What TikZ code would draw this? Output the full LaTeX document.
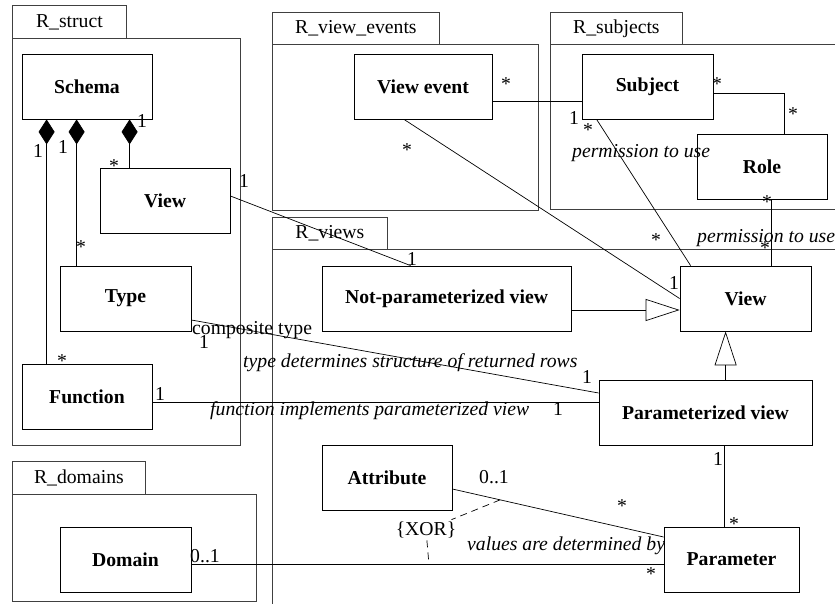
\documentclass[tikz,border=0pt]{standalone}
\usepackage{fontspec}
\setmainfont{Liberation Serif}
\usetikzlibrary{arrows.meta,calc}
\definecolor{pkgline}{gray}{0.25}

\tikzset{
  txt/.style={font=\fontsize{19.7}{23}\selectfont},
  cls/.style={draw, line width=0.8pt, minimum width=130pt, minimum height=65pt,
    inner sep=0pt, font=\fontsize{19.7}{23}\selectfont\bfseries},
  pkgtab/.style={draw=pkgline, line width=0.8pt, anchor=north west, inner sep=0pt, txt},
  pkgbody/.style={draw=pkgline, line width=0.8pt},
  assoc/.style={line width=0.7pt},
  mult/.style={anchor=base, inner sep=0pt, txt},
  rolename/.style={anchor=base west, inner sep=0pt, font=\fontsize{19.7}{23}\selectfont\itshape},
  compo/.style={assoc, {Diamond[length=25pt,width=16pt]}-},
  gen/.style={assoc, -{Triangle[open,length=34pt,width=22pt]}},
  xorline/.style={line width=0.7pt, dash pattern=on 7pt off 5pt},
}

\begin{document}
\begin{tikzpicture}[x=1pt,y=-1pt]
\useasboundingbox (0,0) rectangle (835,604);
\clip (0,0) rectangle (835,604);

% ---------- packages ----------
\node[pkgtab, minimum width=114pt, minimum height=33pt] (tabstruct) at (12,5) {R\_struct};
\draw[pkgbody] (12,38) rectangle (240,445);

\node[pkgtab, minimum width=133pt, minimum height=33pt] (tabdomains) at (12,461) {R\_domains};
\draw[pkgbody] (12,494) rectangle (256,601);

\node[pkgtab, minimum width=167pt, minimum height=32pt] (tabevents) at (272,12) {R\_view\_events};
\draw[pkgbody] (272,44) rectangle (538,210);

\node[pkgtab, minimum width=132pt, minimum height=32pt] (tabsubjects) at (550,12) {R\_subjects};
\draw[pkgbody] (550,44) rectangle (850,209);

\node[pkgtab, minimum width=115pt, minimum height=32pt] (tabviews) at (272,217) {R\_views};
\draw[pkgbody] (272,249) rectangle (850,620);

% ---------- classes ----------
\node[cls] (schema)  at (87,86.5)    {Schema};
\node[cls] (sview)   at (165,200.5)  {View};
\node[cls, minimum width=131pt] (type) at (125.5,298.5) {Type};
\node[cls] (func)    at (87,396.5)   {Function};
\node[cls, minimum width=131pt] (domain) at (125.5,559.5) {Domain};
\node[cls, minimum width=138pt] (vevent) at (423,86.5) {View event};
\node[cls, minimum width=131pt] (subject) at (647.5,86.5) {Subject};
\node[cls] (role)    at (762,166.5)  {Role};
\node[cls, minimum width=249pt] (np) at (446.5,298.5) {Not-parameterized view};
\node[cls, minimum width=131pt] (view) at (745.5,298.5) {View};
\node[cls, minimum width=213pt] (pview) at (705.5,412.5) {Parameterized view};
\node[cls] (attr)    at (387,477.5)  {Attribute};
\node[cls, minimum width=135pt] (param) at (731.5,559.5) {Parameter};

% ---------- compositions ----------
\draw[compo] ([xshift=25pt]schema.south west) -- ([xshift=25pt]func.north west);
\draw[compo] ([xshift=55pt]schema.south west) -- ([xshift=17pt]type.north west);
\draw[compo] ([xshift=108pt]schema.south west) -- ([xshift=30pt]sview.north west);

% ---------- associations ----------
\draw[assoc] ([yshift=4.5pt]sview.east) -- ([xshift=89pt]np.north west);
\draw[assoc] ([yshift=-21.5pt]type.east) -- ([yshift=19.5pt]pview.west);
\draw[assoc] ([yshift=-5.5pt]func.east) -- ([yshift=10.5pt]pview.west);
\draw[assoc] ([yshift=-14.5pt]vevent.east) -- ([yshift=-14.5pt]subject.west);
\draw[assoc] ([xshift=-19pt]vevent.south) -- (view.west);
\draw[assoc] ([xshift=15pt]subject.south west) -- ([xshift=11pt]view.north west);
\draw[assoc] ([yshift=-6.5pt]subject.east) -| ([xshift=88pt]role.north west);
\draw[assoc] ([xshift=75pt]role.south west) -- ([xshift=92pt]view.north west);
\draw[assoc] ([xshift=126pt]pview.south west) -- ([xshift=61pt]param.north west);
\draw[assoc] ([yshift=-11.5pt]attr.east) -- ([yshift=22.5pt]param.west)
  coordinate[pos=0.226] (xa);
\draw[assoc] ([yshift=-4.5pt]domain.east) -- ([yshift=-4.5pt]param.west)
  coordinate[pos=0.503] (xd);

% ---------- generalizations ----------
\draw[gen] ([yshift=-11.5pt]np.east) -- ([yshift=-11.5pt]view.west);
\draw[gen] ([xshift=127pt]pview.north west) -- ([xshift=46pt]view.south west);

% ---------- xor constraint ----------
\node[txt, inner sep=2pt] (xor) at (426,530) {\{XOR\}};
\draw[xorline] (xa) -- (xor);
\draw[xorline] (xor) -- (xd);

% ---------- multiplicities ----------
\node[mult] (m1)  at (38,158)  {1};
\node[mult] (m2)  at (63,154)  {1};
\node[mult] (m3)  at (142,128) {1};
\node[mult] (m4)  at (114,173) {*};
\node[mult] (m5)  at (81,253)  {*};
\node[mult] (m6)  at (62,367)  {*};
\node[mult] (m7)  at (244,188) {1};
\node[mult] (m8)  at (204,348) {1};
\node[mult] (m9)  at (160,400) {1};
\node[mult] (m10) at (558,415) {1};
\node[mult] (m11) at (587,383) {1};
\node[mult] (m12) at (412,265) {1};
\node[mult] (m13) at (506,91)  {*};
\node[mult] (m14) at (407,157) {*};
\node[mult] (m15) at (717,91)  {*};
\node[mult] (m16) at (793,121) {*};
\node[mult] (m17) at (574,125) {1};
\node[mult] (m18) at (588,137) {*};
\node[mult] (m19) at (767,208) {*};
\node[mult] (m20) at (765,254) {*};
\node[mult] (m21) at (656,247) {*};
\node[mult] (m22) at (674,289) {1};
\node[mult] (m23) at (205,562) {0..1};
\node[mult] (m24) at (494,483) {0..1};
\node[mult] (m25) at (622,512) {*};
\node[mult] (m26) at (718,465) {1};
\node[mult] (m27) at (734,530) {*};
\node[mult] (m28) at (651,580) {*};

% ---------- association names ----------
\node[anchor=base west, inner sep=0pt, txt] (ct) at (192,334) {composite type};
\node[rolename] (r1) at (243,367) {type determines structure of returned rows};
\node[rolename] (r2) at (210,415) {function implements parameterized view};
\node[rolename] (r3) at (572,158) {permission to use};
\node[rolename] (r4) at (697,242) {permission to use};
\node[rolename] (r5) at (467,550) {values are determined by};
\end{tikzpicture}
\end{document}
